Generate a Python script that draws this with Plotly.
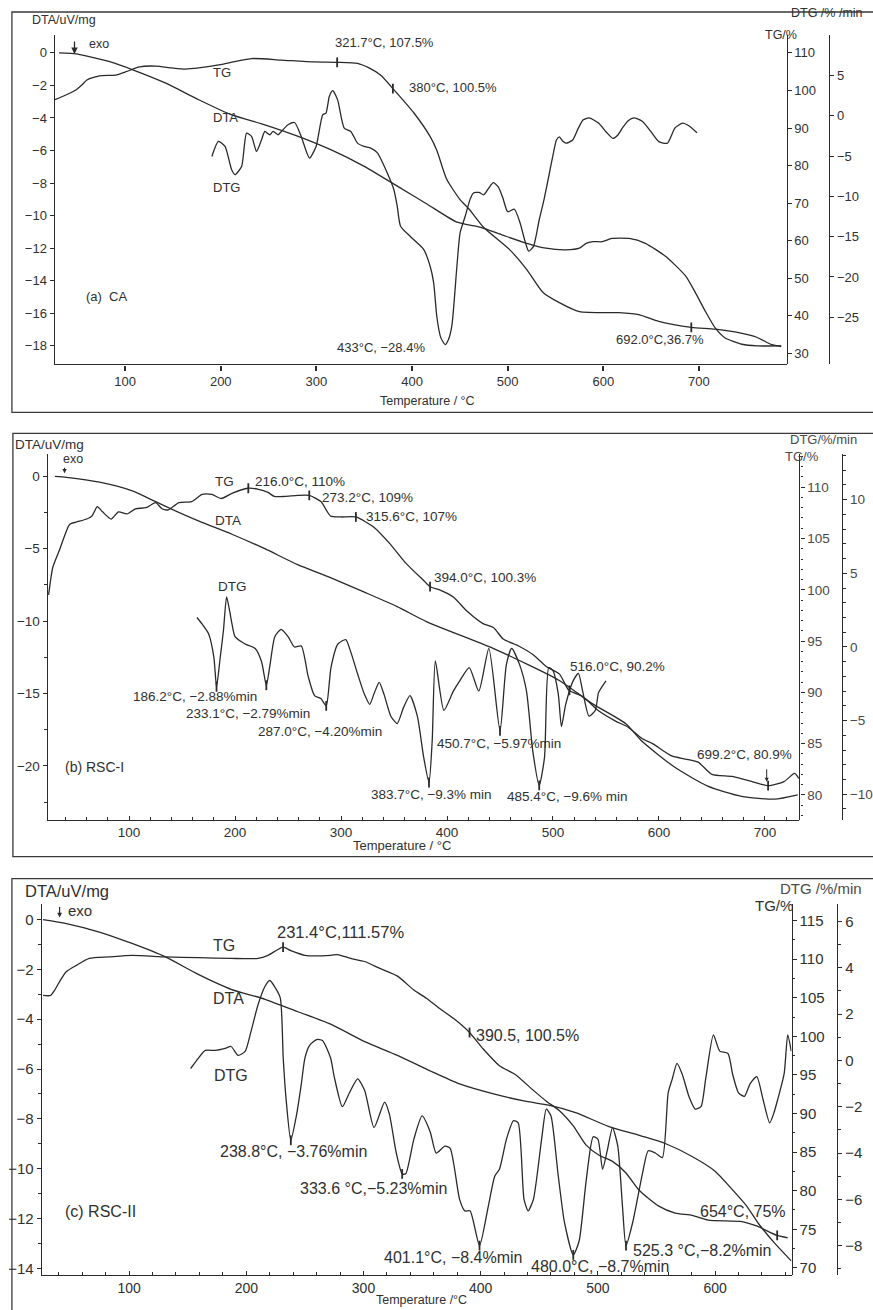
import plotly.graph_objects as go

W, H = 873, 1310
FONT = "Liberation Sans, Arial, Helvetica, sans-serif"
INK = "#2a2a2a"
TXT = "#303030"

# ---------------- panel (a) CA ----------------
a_dta_T = [31, 49, 59, 83, 108, 142, 177, 211, 246, 281, 315, 350, 385, 416, 447, 471, 495, 520, 540, 561,
           575, 582, 589, 599, 609, 627, 644, 665, 686, 696, 706, 717, 727, 745, 761, 786]
a_dta = [0.0, -0.06, -0.18, -0.53, -1.04, -1.85, -2.88, -3.80, -4.42, -5.13, -5.95, -6.97, -8.20, -9.30, -10.40,
         -10.70, -11.20, -11.70, -12.00, -12.10, -12.00, -11.70, -11.60, -11.60, -11.40, -11.40, -11.70, -12.50,
         -13.70, -14.70, -15.80, -16.90, -17.50, -17.90, -18.00, -18.00]

a_tg_T = [26, 38, 49, 55, 60, 73, 90, 101, 115, 132, 149, 163, 177, 198, 232, 263, 298, 322, 343, 355, 367, 380,
          402, 419, 426, 436, 450, 460, 475, 502, 520, 537, 554, 575, 616, 637, 658, 692, 717, 745, 761, 776, 786]
a_tg = [97.5, 98.8, 100.2, 101.5, 102.8, 103.9, 104.1, 105.0, 106.3, 106.5, 106.0, 105.7, 106.0, 106.8, 108.5,
        108.1, 107.6, 107.5, 107.2, 106.0, 104.1, 100.5, 94.0, 87.7, 84.0, 76.5, 71.0, 68.3, 63.5, 57.6, 52.3,
        46.2, 43.5, 41.1, 40.8, 40.3, 38.5, 36.9, 36.4, 35.3, 34.2, 32.3, 31.8]

a_dtg_T = [190.7, 197.6, 204.5, 211.4, 214.9, 221.8, 227, 232.2, 237.4, 242.6, 246.1, 251.3, 254.7, 259.9, 263.4,
           270.3, 277.2, 284.1, 292.8, 299.7, 306.6, 310, 313.5, 317, 322.2, 329.1, 336, 343, 349.9, 356.8, 363.8,
           374.1, 381.1, 384.5, 388, 398.4, 412.3, 419, 422.6, 426, 430, 434.7, 438, 441.7, 446.9, 450.3, 455.5,
           460.6, 464, 470, 475, 480, 485, 490, 495, 500, 507, 513, 518, 522, 527, 533, 538, 543, 547, 551, 554,
           558, 561, 568, 574, 579, 585, 595, 603, 610, 615, 620, 626, 632, 641, 650, 658, 667, 675, 683, 689, 698]
a_dtg = [-5.04, -3.18, -3.8, -6.7, -7.3, -6.3, -2.15, -2.56, -4.4, -3.0, -1.94, -2.35, -1.94, -2.35, -1.94, -1.1,
         -0.83, -2.56, -5.24, -3.8, 0.12, 0.33, 2.4, 3.14, 1.98, -1.53, -1.94, -3.39, -3.8, -4.0, -4.6, -7.1, -9.2,
         -11.2, -13.7, -15.0, -16.6, -18.7, -20.7, -25.0, -27.5, -28.4, -27.8, -26.0, -18.7, -14.5, -12.5, -10.4,
         -9.6, -9.5, -9.8, -9.0, -8.3, -8.8, -10.2, -11.9, -11.6, -13.3, -15.5, -16.8, -16.2, -12.9, -10.4, -7.5,
         -5.1, -3.0, -2.6, -3.2, -3.4, -3.0, -1.5, -0.5, -0.25, -0.9, -2.0, -2.8, -2.4, -1.5, -0.6, -0.25, -0.7,
         -2.0, -3.2, -3.4, -1.5, -0.9, -1.2, -2.1]

a_mark_T = [321.7, 380, 692]
a_mark_tg = [107.5, 100.5, 36.9]

a_xticks = [100, 200, 300, 400, 500, 600, 700]
a_dta_ticks = [0, -2, -4, -6, -8, -10, -12, -14, -16, -18]
a_tg_ticks = [30, 40, 50, 60, 70, 80, 90, 100, 110]
a_dtg_ticks = [5, 0, -5, -10, -15, -20, -25]

# ---------------- panel (b) RSC-I ----------------
b_dta_T = [30, 41, 72, 103, 135, 166, 197, 228, 259, 290, 322, 353, 381, 444, 506, 537, 569, 584, 615, 646, 678,
           709, 731]
b_dta = [0.0, -0.07, -0.4, -1.0, -2.1, -3.1, -4.0, -5.0, -6.1, -7.0, -8.0, -9.0, -10.05, -11.9, -14.1, -15.7,
         -17.1, -18.3, -20.1, -21.4, -22.1, -22.3, -22.0]

b_tg_T = [24, 26, 28, 34, 44, 50, 60, 65, 70, 75, 83, 90, 98, 106, 116, 125, 131, 137, 147, 159, 169, 178, 187,
          197, 212, 222, 231, 237, 247, 259, 270, 281, 290, 300, 314, 331, 346, 362, 378, 384, 393, 406, 419, 434,
          444, 453, 468, 481, 494, 506, 515, 528, 543, 559, 571, 584, 594, 612, 625, 637, 650, 669, 688, 703, 718,
          728, 732]
b_tg = [99.5, 101.0, 102.2, 103.8, 106.4, 106.6, 106.9, 107.2, 108.1, 107.6, 106.9, 107.6, 107.4, 107.9, 108.0,
        108.5, 107.9, 107.8, 108.5, 108.6, 109.3, 109.3, 108.9, 109.4, 109.9, 109.8, 109.5, 109.1, 109.1, 109.2,
        109.2, 108.6, 107.2, 107.1, 107.1, 106.1, 104.5, 102.5, 100.9, 100.3, 100.0, 99.3, 97.9, 96.7, 96.3, 95.2,
        94.5, 93.7, 92.5, 91.8, 90.2, 89.6, 88.2, 87.2, 86.6, 85.5, 85.0, 83.8, 83.5, 83.2, 82.0, 81.8, 81.3, 80.9,
        81.3, 82.1, 81.6]

b_dtg_T = [164, 169, 175, 180, 182.5, 186, 189, 192, 195, 197, 200, 209.5, 219, 225, 229.5, 233, 237.5, 243.5,
           250, 256, 262.5, 269, 275, 281, 286, 290.5, 297, 304.5, 309, 315.5, 322, 327, 331, 336, 340.5, 347, 353,
           359, 365, 372, 378, 383, 386, 389, 397, 406, 412, 421, 430, 439.5, 450, 456, 461, 468.5, 475, 481, 487,
           492, 496, 500, 505, 508, 512, 519, 524, 528, 534, 540, 543, 550]
b_dtg = [2.0, 1.55, 0.9, -0.7, -2.7, -0.7, 1.1, 3.4, 2.4, 1.6, 0.7, 0.2, -0.1, -1.0, -2.6, -1.2, 0.7, 1.2, 0.7,
         0.0, 0.07, -2.0, -3.3, -3.5, -4.0, -1.4, 0.2, 0.5, -0.3, -1.8, -3.2, -3.9, -3.2, -2.4, -3.2, -4.7, -5.2,
         -4.1, -3.3, -4.7, -7.5, -9.2, -6.4, -0.95, -4.3, -3.0, -2.3, -1.4, -3.0, -0.1, -5.7, -1.2, -0.1, -1.2,
         -3.0, -7.1, -9.4, -7.5, -1.4, -1.6, -3.2, -5.4, -3.9, -2.3, -1.8, -3.0, -4.7, -4.3, -3.1, -2.3]

b_mark_tg_T = [212.5, 270, 314, 384, 515.5, 703]
b_mark_tg = [109.9, 109.2, 107.1, 100.3, 90.2, 80.9]
b_mark_dtg_T = [182.5, 229.5, 286, 383, 450, 487]
b_mark_dtg = [-2.7, -2.6, -4.0, -9.2, -5.7, -9.4]

b_xticks = [100, 200, 300, 400, 500, 600, 700]
b_dta_ticks = [0, -5, -10, -15, -20]
b_tg_ticks = [80, 85, 90, 95, 100, 105, 110]
b_dtg_ticks = [10, 5, 0, -5, -10]

# ---------------- panel (c) RSC-II ----------------
c_dta_T = [26.5, 46.5, 74.6, 102.5, 131, 159, 187, 216, 244, 272, 301, 329, 358, 382, 411, 439, 458, 481, 509,
           538, 558, 580, 600, 614, 627, 637, 651, 665]
c_dta = [0.0, -0.16, -0.5, -0.96, -1.5, -2.2, -2.8, -3.2, -3.7, -4.2, -4.9, -5.45, -6.1, -6.6, -7.0, -7.3, -7.45,
         -7.75, -8.3, -8.7, -9.0, -9.5, -10.1, -10.8, -11.5, -12.2, -13.0, -13.7]

c_tg_T = [26.5, 33, 36.5, 40.7, 46.5, 55, 66, 83, 102.5, 131, 159, 187, 210, 218.6, 231.4, 238, 250, 272, 278,
          289, 301, 314, 329, 343, 354, 365, 377, 390.5, 402, 416, 430, 445, 456, 467, 479, 490, 501, 512.5, 524,
          535, 552, 566, 580.5, 594, 623, 636, 653, 662]
c_tg = [105.3, 105.3, 106.0, 107.1, 108.4, 109.2, 110.1, 110.3, 110.5, 110.3, 110.2, 110.1, 110.1, 110.5, 111.57,
        111.1, 110.5, 110.5, 110.6, 110.1, 109.7, 108.8, 107.8, 106.0, 104.9, 103.6, 102.3, 100.5, 98.4, 96.2,
        95.0, 93.0, 91.6, 90.4, 88.4, 85.9, 84.6, 83.8, 82.3, 80.1, 78.0, 77.1, 76.8, 76.2, 76.0, 75.4, 74.2, 73.9]

c_dtg_T = [152.5, 159, 165, 173.5, 182, 187, 193, 199, 204, 210, 216, 220, 224, 229, 231.5, 234, 238, 242.7, 247,
           250, 254, 260, 265, 272, 275, 282, 288, 295, 301, 309, 318, 322, 328, 333, 336, 343, 350, 357, 362,
           369.5, 374, 382, 386.5, 391, 399, 406.5, 412, 416, 422, 428, 432, 437, 440.5, 445, 452, 456, 460, 466,
           471.5, 479, 484, 490, 496, 500, 504, 508, 512.5, 517, 521, 524, 529.7, 538, 543, 549, 555, 560, 563.5,
           567.5, 572, 578, 583, 588, 592, 598.6, 604, 611, 615, 620, 625, 630, 635.6, 641, 646.6, 650, 653.4, 659,
           662, 665]
c_dtg = [-0.35, 0.09, 0.43, 0.43, 0.52, 0.6, 0.22, 0.39, 1.25, 2.4, 3.2, 3.45, 3.2, 2.7, 0.1, -1.7, -3.45, -2.4,
         -1.0, 0.1, 0.65, 0.9, 0.86, 0.09, -0.7, -2.0, -1.4, -0.8, -1.3, -2.9, -1.8, -2.3, -4.0, -4.9, -4.9, -3.4,
         -2.4, -3.1, -4.0, -3.7, -3.8, -6.0, -6.5, -6.5, -8.0, -6.3, -5.0, -4.7, -3.4, -2.6, -2.7, -6.0, -6.5,
         -6.0, -3.4, -2.1, -2.4, -4.9, -7.0, -8.4, -7.8, -5.2, -3.3, -3.4, -4.7, -3.9, -2.9, -3.7, -6.3, -8.0,
         -7.0, -4.9, -3.9, -4.0, -4.2, -1.4, -0.8, -0.13, -0.6, -1.6, -2.1, -2.0, -0.8, 1.1, 0.4, 0.3, -0.6, -1.4,
         -1.55, -1.0, -0.7, -1.7, -2.7, -2.3, -1.7, -0.56, 1.1, 0.4]

c_mark_tg_T = [231.4, 390.5, 653]
c_mark_tg = [111.57, 100.5, 74.2]
c_mark_dtg_T = [238, 333, 399, 479, 524]
c_mark_dtg = [-3.45, -4.9, -8.0, -8.4, -8.0]

c_xticks = [100, 200, 300, 400, 500, 600]
c_dta_ticks = [0, -2, -4, -6, -8, -10, -12, -14]
c_tg_ticks = [70, 75, 80, 85, 90, 95, 100, 105, 110, 115]
c_dtg_ticks = [6, 4, 2, 0, -2, -4, -6, -8]


def fx(p):
    return p / W


def fy(p):
    return 1 - p / H


fig = go.Figure()


def curve(x, y, xa, ya):
    fig.add_trace(go.Scatter(x=x, y=y, xaxis=xa, yaxis=ya, mode="lines",
                             line=dict(color=INK, width=1.3, shape="spline", smoothing=0.6),
                             hoverinfo="skip", showlegend=False))


def marks(x, y, xa, ya):
    fig.add_trace(go.Scatter(x=x, y=y, xaxis=xa, yaxis=ya, mode="markers",
                             marker=dict(symbol="line-ns-open", size=7, color=INK,
                                         line=dict(color=INK, width=1.8)),
                             hoverinfo="skip", showlegend=False))


# panel a
curve(a_dta_T, a_dta, "x", "y")
curve(a_tg_T, a_tg, "x", "y2")
curve(a_dtg_T, a_dtg, "x", "y3")
marks(a_mark_T, a_mark_tg, "x", "y2")
# panel b
curve(b_dta_T, b_dta, "x2", "y4")
curve(b_tg_T, b_tg, "x2", "y5")
curve(b_dtg_T, b_dtg, "x2", "y6")
marks(b_mark_tg_T, b_mark_tg, "x2", "y5")
marks(b_mark_dtg_T, b_mark_dtg, "x2", "y6")
# panel c
curve(c_dta_T, c_dta, "x3", "y7")
curve(c_tg_T, c_tg, "x3", "y8")
curve(c_dtg_T, c_dtg, "x3", "y9")
marks(c_mark_tg_T, c_mark_tg, "x3", "y8")
marks(c_mark_dtg_T, c_mark_dtg, "x3", "y9")


def xax(left, right, rng, anchor, ticks, fs, minor, tw, tl, side):
    d = dict(domain=[fx(left), fx(right)], range=rng, anchor=anchor, tickmode="array", tickvals=ticks,
             showline=True, linecolor=INK, linewidth=1.3, ticks=side, ticklen=tl, tickwidth=tw,
             tickcolor=INK, showgrid=False, zeroline=False,
             tickfont=dict(family=FONT, size=fs, color=TXT))
    if minor:
        d["minor"] = dict(tickmode="linear", tick0=0, dtick=minor, ticks=side, ticklen=2.5,
                          tickcolor=INK, tickwidth=1, showgrid=False)
    return d


def yax(top, bottom, rng, ticks, fs, side, anchor=None, overlay=None, pos=None, minor=None, color=TXT):
    d = dict(domain=[fy(bottom), fy(top)], range=rng, tickmode="array", tickvals=ticks, side=side,
             showline=True, linecolor=INK, linewidth=1.2, ticks="outside", ticklen=4, tickwidth=1.2,
             tickcolor=INK, showgrid=False, zeroline=False,
             tickfont=dict(family=FONT, size=fs, color=color))
    if overlay:
        d["overlaying"] = overlay
        d["anchor"] = "free"
        d["position"] = fx(pos)
    else:
        d["anchor"] = anchor
    if minor:
        d["minor"] = dict(tickmode="linear", tick0=0, dtick=minor, ticks="outside", ticklen=2.5,
                          tickcolor=INK, tickwidth=1, showgrid=False)
    return d


layout = dict(
    width=W, height=H, autosize=False, margin=dict(l=0, r=0, t=0, b=0),
    paper_bgcolor="white", plot_bgcolor="rgba(0,0,0,0)", showlegend=False,
    # panel a
    xaxis=xax(55, 792, [26.3, 791.6], "y", a_xticks, 13, None, 2.2, 5, "outside"),
    yaxis=yax(35, 365, [-19.14, 1.10], a_dta_ticks, 13, "left", anchor="x"),
    yaxis2=yax(35, 365, [27.02, 114.79], a_tg_ticks, 13, "right", overlay="y", pos=792),
    yaxis3=yax(35, 365, [-30.86, 10.04], a_dtg_ticks, 13, "right", overlay="y", pos=835),
    # panel b
    xaxis2=xax(48, 805, [23.15, 732.6], "y4", b_xticks, 13.5, 20, 1.4, 4, "inside"),
    yaxis4=yax(455, 821, [-23.72, 1.52], b_dta_ticks, 13.5, "left", anchor="x2", minor=2.5),
    yaxis5=yax(455, 821, [77.58, 113.21], b_tg_ticks, 13.5, "right", overlay="y4", pos=805, minor=1,
               color="#4a4a4a"),
    yaxis6=yax(455, 821, [-11.73, 13.08], b_dtg_ticks, 13.5, "right", overlay="y4", pos=848, minor=1,
               color="#4a4a4a"),
    # panel c
    xaxis3=xax(42, 797, [25.42, 665.25], "y7", c_xticks, 14, 20, 1.4, 4, "inside"),
    yaxis7=yax(905, 1277, [-14.27, 0.64], c_dta_ticks, 15, "left", anchor="x3", minor=1),
    yaxis8=yax(905, 1277, [69.07, 117.2], c_tg_ticks, 15, "right", overlay="y7", pos=797, minor=2.5),
    yaxis9=yax(905, 1277, [-9.27, 6.77], c_dtg_ticks, 15, "right", overlay="y7", pos=843, minor=1),
)


def lab(x, y, text, size, anchor="left", color=TXT):
    return dict(x=fx(x), y=fy(y), xref="paper", yref="paper", text=text, showarrow=False,
                xanchor=anchor, yanchor="middle", font=dict(family=FONT, size=size, color=color))


def arrow(x, y, ay, width=1.3, size=1.0):
    return dict(x=fx(x), y=fy(y), xref="paper", yref="paper", text="", showarrow=True, ax=0, ay=ay,
                arrowhead=2, arrowsize=size, arrowwidth=width, arrowcolor=INK)


ann = [
    # panel a
    lab(30, 20, "DTA/uV/mg", 12.5),
    lab(88, 44, "exo", 12.5),
    arrow(75, 54, -14),
    lab(212, 73, "TG", 13),
    lab(212, 118, "DTA", 13),
    lab(212, 188, "DTG", 13),
    lab(335, 43, "321.7°C, 107.5%", 13),
    lab(410, 88, "380°C, 100.5%", 13),
    lab(337, 348, "433°C, −28.4%", 13),
    lab(618, 340, "692.0°C,36.7%", 13),
    lab(85, 297, "(a)  CA", 13),
    lab(430, 402, "Temperature / °C", 12.5, "center"),
    lab(768, 35, "TG/%", 12.5),
    lab(794, 13, "DTG /% /min", 12.5),
    # panel b
    lab(13, 445, "DTA/uV/mg", 13.5),
    lab(61, 460, "exo", 12.5),
    arrow(65, 474, -7, 1.1, 0.8),
    lab(214, 482, "TG", 13.5),
    lab(255, 482, "216.0°C, 110%", 13.5),
    lab(322, 498, "273.2°C, 109%", 13.5),
    lab(367, 517, "315.6°C, 107%", 13.5),
    lab(214, 521, "DTA", 13.5),
    lab(435, 578, "394.0°C, 100.3%", 13.5),
    lab(217, 587, "DTG", 13.5),
    lab(132, 698, "186.2°C, −2.88%min", 13.5),
    lab(185, 715, "233.1°C, −2.79%min", 13.5),
    lab(258, 733, "287.0°C, −4.20%min", 13.5),
    lab(63, 768, "(b) RSC-I", 14),
    lab(372, 796, "383.7°C, −9.3% min", 13.5),
    lab(438, 745, "450.7°C, −5.97%min", 13.5),
    lab(508, 798, "485.4°C, −9.6% min", 13.5),
    lab(572, 668, "516.0°C, 90.2%", 13.5),
    lab(700, 756, "699.2°C, 80.9%", 13.5),
    arrow(772, 783, -14, 1.0, 0.8),
    lab(788, 457, "TG/%", 13, color="#4a4a4a"),
    lab(793, 440, "DTG/%/min", 13, color="#4a4a4a"),
    lab(405, 847, "Temperature / °C", 13, "center"),
    # panel c
    lab(23, 892, "DTA/uV/mg", 16.5),
    arrow(60, 919, -12, 1.2, 0.8),
    lab(66, 912, "exo", 15),
    lab(277, 933, "231.4°C,111.57%", 16.5),
    lab(212, 947, "TG", 16),
    lab(212, 1000, "DTA", 16),
    lab(213, 1077, "DTG", 16),
    lab(477, 1037, "390.5, 100.5%", 16),
    lab(220, 1153, "238.8°C, −3.76%min", 16),
    lab(300, 1190, "333.6 °C,−5.23%min", 16),
    lab(63, 1213, "(c) RSC-II", 16),
    lab(385, 1259, "401.1°C, −8.4%min", 16),
    lab(533, 1268, "480.0°C, −8.7%min", 16),
    lab(635, 1252, "525.3 °C,−8.2%min", 16),
    lab(703, 1213, "654°C, 75%", 16),
    lab(758, 907, "TG/%", 15),
    lab(783, 890, "DTG /%/min", 15, color="#4a4a4a"),
    lab(424, 1302, "Temperature /°C", 12.5, "center"),
]
layout["annotations"] = ann

frame = dict(type="rect", xref="paper", yref="paper", line=dict(color="#3a3a3a", width=1.3),
             fillcolor="rgba(0,0,0,0)", layer="below")
layout["shapes"] = [
    dict(frame, x0=fx(12), x1=fx(890), y0=fy(413), y1=fy(12)),
    dict(frame, x0=fx(13), x1=fx(890), y0=fy(858), y1=fy(434)),
    dict(frame, x0=fx(12), x1=fx(890), y0=fy(1330), y1=fy(880)),
]

fig.update_layout(**layout)
fig.write_html("out.html")
